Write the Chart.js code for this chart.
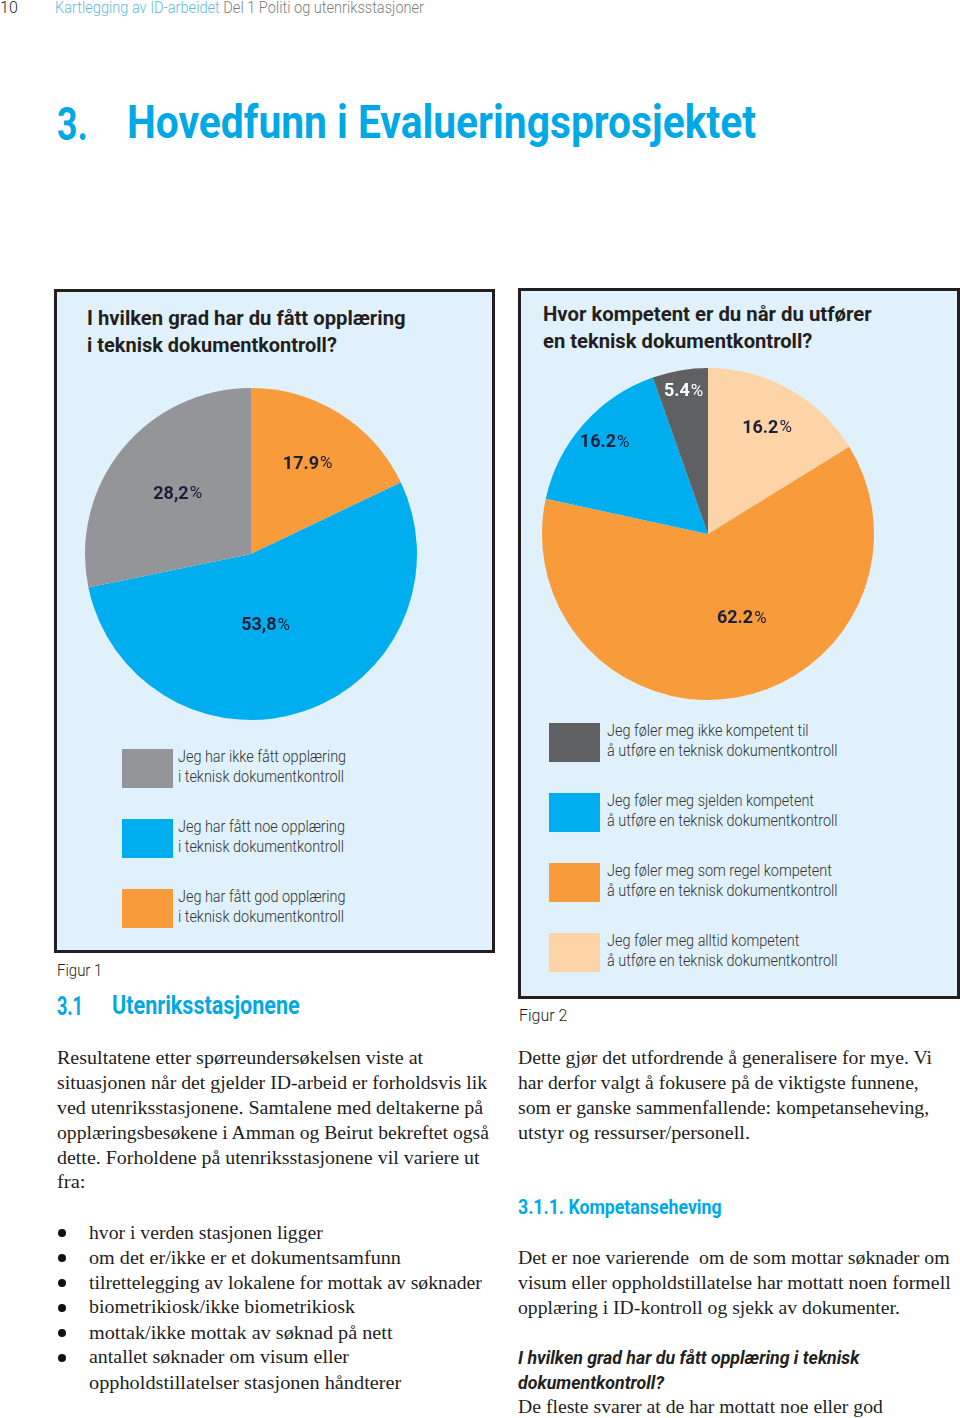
<!DOCTYPE html>
<html>
<head>
<meta charset="utf-8">
<script src="https://cdn.jsdelivr.net/npm/chart.js"></script>
<style>
html,body{margin:0;padding:0;background:#fff;}
body{width:960px;height:1418px;position:relative;overflow:hidden;font-family:Roboto,sans-serif;color:#231f20;}
.t{position:absolute;white-space:nowrap;line-height:1;transform-origin:0 50%;transform:translateY(-50%);}
.lt{font-weight:300;}
.bd{font-weight:700;}
.serif{font-family:"Liberation Serif","DejaVu Serif",serif;font-size:19px;color:#1e1e1e;}
.blue{color:#00a9e6;}
.box{position:absolute;background:#e0f1fb;border:3px solid #231f20;box-sizing:border-box;}
.sw{position:absolute;width:51px;height:39px;}
.leg{font-weight:300;font-size:16px;color:#333;}
canvas{position:absolute;}
.dot{position:absolute;width:8px;height:8px;border-radius:50%;background:#111;}
</style>
</head>
<body>

<div class="t lt" style="left:0;top:8px;font-size:16px;" data-w="18">10</div>
<div class="t lt" style="left:55px;top:8px;font-size:16px;" data-w="369"><span style="color:#5fbbe3">Kartlegging av ID-arbeidet</span> <span style="color:#7d7d7d">Del 1 Politi og utenriksstasjoner</span></div>

<div class="t bd blue" style="left:57px;top:124px;font-size:46px;" data-w="31">3.</div>
<div class="t bd blue" style="left:127px;top:122px;font-size:46px;" data-w="629">Hovedfunn i Evalueringsprosjektet</div>

<div class="box" style="left:54px;top:289px;width:441px;height:664px;"></div>
<div class="box" style="left:518px;top:288px;width:442px;height:711px;"></div>

<div class="t bd" style="left:87px;top:318px;font-size:21px;" data-w="319">I hvilken grad har du fått opplæring</div>
<div class="t bd" style="left:87px;top:345px;font-size:21px;" data-w="250">i teknisk dokumentkontroll?</div>
<div class="t bd" style="left:543px;top:314px;font-size:21px;" data-w="329">Hvor kompetent er du når du utfører</div>
<div class="t bd" style="left:543px;top:341px;font-size:21px;" data-w="269">en teknisk dokumentkontroll?</div>

<canvas id="fig1" width="340" height="340" style="left:81px;top:384px;width:340px;height:340px;"></canvas>
<canvas id="fig2" width="340" height="340" style="left:538px;top:364px;width:340px;height:340px;"></canvas>

<div id="legends"></div>

<div class="t lt" style="left:57px;top:970px;font-size:17px;" data-w="45">Figur 1</div>
<div class="t lt" style="left:519px;top:1015px;font-size:17px;" data-w="48">Figur 2</div>

<div class="t bd blue" style="left:57px;top:1006px;font-size:25px;" data-w="26">3.1</div>
<div class="t bd blue" style="left:112px;top:1005px;font-size:25px;" data-w="188">Utenriksstasjonene</div>

<div class="t serif" style="left:57px;top:1057px;" data-w="366">Resultatene etter spørreundersøkelsen viste at</div>
<div class="t serif" style="left:57px;top:1082px;" data-w="430">situasjonen når det gjelder ID-arbeid er forholdsvis lik</div>
<div class="t serif" style="left:57px;top:1107px;" data-w="426">ved utenriksstasjonene. Samtalene med deltakerne på</div>
<div class="t serif" style="left:57px;top:1132px;" data-w="432">opplæringsbesøkene i Amman og Beirut bekreftet også</div>
<div class="t serif" style="left:57px;top:1157px;" data-w="423">dette. Forholdene på utenriksstasjonene vil variere ut</div>
<div class="t serif" style="left:57px;top:1181px;" data-w="28">fra:</div>

<div class="dot" style="left:58px;top:1229px;"></div>
<div class="t serif" style="left:89px;top:1232px;" data-w="234">hvor i verden stasjonen ligger</div>
<div class="dot" style="left:58px;top:1254px;"></div>
<div class="t serif" style="left:89px;top:1257px;" data-w="312">om det er/ikke er et dokumentsamfunn</div>
<div class="dot" style="left:58px;top:1279px;"></div>
<div class="t serif" style="left:89px;top:1282px;" data-w="393">tilrettelegging av lokalene for mottak av søknader</div>
<div class="dot" style="left:58px;top:1304px;"></div>
<div class="t serif" style="left:89px;top:1306px;" data-w="266">biometrikiosk/ikke biometrikiosk</div>
<div class="dot" style="left:58px;top:1329px;"></div>
<div class="t serif" style="left:89px;top:1332px;" data-w="303">mottak/ikke mottak av søknad på nett</div>
<div class="dot" style="left:58px;top:1354px;"></div>
<div class="t serif" style="left:89px;top:1356px;" data-w="260">antallet søknader om visum eller</div>
<div class="t serif" style="left:89px;top:1382px;" data-w="312">oppholdstillatelser stasjonen håndterer</div>

<div class="t serif" style="left:518px;top:1057px;" data-w="414">Dette gjør det utfordrende å generalisere for mye. Vi</div>
<div class="t serif" style="left:518px;top:1082px;" data-w="401">har derfor valgt å fokusere på de viktigste funnene,</div>
<div class="t serif" style="left:518px;top:1107px;" data-w="411">som er ganske sammenfallende: kompetanseheving,</div>
<div class="t serif" style="left:518px;top:1132px;" data-w="232">utstyr og ressurser/personell.</div>

<div class="t bd blue" style="left:518px;top:1207px;font-size:20px;" data-w="204">3.1.1. Kompetanseheving</div>

<div class="t serif" style="left:518px;top:1257px;" data-w="432">Det er noe varierende&nbsp; om de som mottar søknader om</div>
<div class="t serif" style="left:518px;top:1282px;" data-w="433">visum eller oppholdstillatelse har mottatt noen formell</div>
<div class="t serif" style="left:518px;top:1307px;" data-w="382">opplæring i ID-kontroll og sjekk av dokumenter.</div>

<div class="t bd" style="left:518px;top:1357px;font-size:19px;font-style:italic;" data-w="341">I hvilken grad har du fått opplæring i teknisk</div>
<div class="t bd" style="left:518px;top:1382px;font-size:19px;font-style:italic;" data-w="146">dokumentkontroll?</div>
<div class="t serif" style="left:518px;top:1406px;" data-w="365">De fleste svarer at de har mottatt noe eller god</div>

<script>
// Figur 1: I hvilken grad har du fått opplæring (clockwise from 12 o'clock)
const fig1Categories = [
  ['Jeg har fått god opplæring', 'i teknisk dokumentkontroll'],
  ['Jeg har fått noe opplæring', 'i teknisk dokumentkontroll'],
  ['Jeg har ikke fått opplæring', 'i teknisk dokumentkontroll']
];
const fig1Values = [17.9, 53.8, 28.2];
const fig1Text = ['17.9', '53,8', '28,2'];

// Figur 2: Hvor kompetent er du
const fig2Categories = [
  ['Jeg føler meg alltid kompetent', 'å utføre en teknisk dokumentkontroll'],
  ['Jeg føler meg som regel kompetent', 'å utføre en teknisk dokumentkontroll'],
  ['Jeg føler meg sjelden kompetent', 'å utføre en teknisk dokumentkontroll'],
  ['Jeg føler meg ikke kompetent til', 'å utføre en teknisk dokumentkontroll']
];
const fig2Values = [16.2, 62.2, 16.2, 5.4];
const fig2Text = ['16.2', '62.2', '16.2', '5.4'];

const fig1Colors = ['#f89b3b', '#00aeef', '#939598'];
const fig2Colors = ['#fdd3a8', '#f89b3b', '#00aeef', '#5f6062'];

// label placement: fraction of radius, angle nudge (deg), colour
const fig1LabelPos = [0.64, 0.44, 0.57];
const fig1LabelTurn = [0, 7, 0];
const fig2LabelPos = [0.73, 0.55, 0.83, 0.87];
const fig2LabelTurn = [0, -12, 0, 0];
const fig1LabelColor = ['#1c1f3a', '#1c1f3a', '#1c1f3a'];
const fig2LabelColor = ['#1c1f3a', '#1c1f3a', '#1c1f3a', '#ffffff'];

// fit text lines to widths measured off the page
document.querySelectorAll('.t[data-w]').forEach(el => {
  const k = (+el.dataset.w) / el.offsetWidth;
  el.style.transform = 'translateY(-50%) scaleX(' + k + ')';
});

const sliceLabels = {
  id: 'sliceLabels',
  afterDatasetsDraw(chart, args, opts) {
    const ctx = chart.ctx;
    chart.getDatasetMeta(0).data.forEach((arc, i) => {
      const p = arc.getProps(['x', 'y', 'startAngle', 'endAngle', 'outerRadius'], true);
      const a = (p.startAngle + p.endAngle) / 2 + opts.turn[i] * Math.PI / 180;
      const r = p.outerRadius * opts.pos[i];
      const px = p.x + Math.cos(a) * r, py = p.y + Math.sin(a) * r;
      ctx.save();
      ctx.textBaseline = 'middle';
      ctx.fillStyle = opts.color[i];
      ctx.font = '700 18px Roboto';
      const w1 = ctx.measureText(opts.text[i]).width;
      ctx.font = '400 17px Roboto';
      const w2 = ctx.measureText('%').width;
      const sx = px - (w1 + w2 + 1) / 2;
      ctx.font = '700 18px Roboto';
      ctx.fillText(opts.text[i], sx, py);
      ctx.font = '400 17px Roboto';
      ctx.fillText('%', sx + w1 + 1, py);
      ctx.restore();
    });
  }
};

function makePie(id, cats, values, colors, text, pos, turn, color) {
  new Chart(document.getElementById(id), {
    type: 'pie',
    data: {
      labels: cats.map(c => c.join(' ')),
      datasets: [{ data: values, backgroundColor: colors, borderWidth: 0 }]
    },
    options: {
      responsive: false,
      animation: false,
      layout: { padding: 4 },
      plugins: {
        legend: { display: false },
        tooltip: { enabled: false },
        sliceLabels: { text: text, pos: pos, turn: turn, color: color }
      }
    },
    plugins: [sliceLabels]
  });
}

makePie('fig1', fig1Categories, fig1Values, fig1Colors, fig1Text, fig1LabelPos, fig1LabelTurn, fig1LabelColor);
makePie('fig2', fig2Categories, fig2Values, fig2Colors, fig2Text, fig2LabelPos, fig2LabelTurn, fig2LabelColor);

// legends: listed in reverse slice order, as in the report
const legendHost = document.getElementById('legends');
const mctx = document.createElement('canvas').getContext('2d');
mctx.font = '300 16px Roboto';
const legScale = 166 / mctx.measureText('i teknisk dokumentkontroll').width;

function buildLegend(cats, colors, swLeft, txtLeft, top0, step) {
  const order = cats.map((c, i) => i).reverse();
  order.forEach((idx, row) => {
    const top = top0 + row * step;
    const sw = document.createElement('div');
    sw.className = 'sw';
    sw.style.left = swLeft + 'px';
    sw.style.top = top + 'px';
    sw.style.background = colors[idx];
    legendHost.appendChild(sw);
    cats[idx].forEach((line, j) => {
      const d = document.createElement('div');
      d.className = 't leg';
      d.textContent = line;
      d.style.left = txtLeft + 'px';
      d.style.top = (top + 8 + j * 20) + 'px';
      d.style.transform = 'translateY(-50%) scaleX(' + legScale + ')';
      legendHost.appendChild(d);
    });
  });
}
buildLegend(fig1Categories, fig1Colors, 122, 178, 749, 70);
buildLegend(fig2Categories, fig2Colors, 549, 607, 723, 70);
</script>
</body>
</html>
